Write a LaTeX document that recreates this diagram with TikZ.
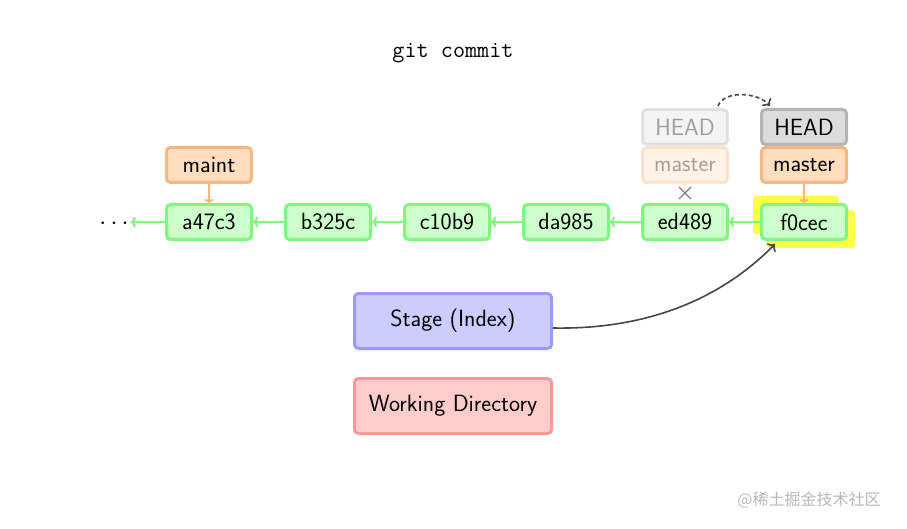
\documentclass[tikz,border=0pt]{standalone}
\usepackage{fontspec}
\newfontfamily\cjk{Noto Sans CJK SC}
\usetikzlibrary{arrows.meta,calc}
\definecolor{cgreen}{RGB}{128,245,128}
\definecolor{cgreenfill}{RGB}{204,255,204}
\definecolor{corange}{RGB}{245,182,128}
\definecolor{corangefill}{RGB}{255,221,190}
\definecolor{cgray}{RGB}{180,180,180}
\definecolor{cgrayfill}{RGB}{220,220,220}
\definecolor{cblue}{RGB}{153,153,255}
\definecolor{cbluefill}{RGB}{204,204,255}
\definecolor{cred}{RGB}{255,153,153}
\definecolor{credfill}{RGB}{255,204,204}
\definecolor{cyellow}{RGB}{255,255,70}
\definecolor{cdark}{RGB}{70,70,70}
\begin{document}
\begin{tikzpicture}[x=1pt,y=-1pt,
  box/.style={rounded corners=4pt, line width=3pt, minimum width=85pt, minimum height=35pt, inner sep=0pt, font=\fontsize{23.5}{28}\sffamily, text=black},
  commit/.style={box, draw=cgreen, fill=cgreenfill},
  branch/.style={box, draw=corange, fill=corangefill},
  headbox/.style={box, draw=cgray, fill=cgrayfill},
  bigbox/.style={box, minimum width=197pt, minimum height=55pt},
  faded/.style={opacity=0.35},
  garrow/.style={draw=cgreen, line width=2pt, -{To[length=5pt,width=11pt]}},
  oarrow/.style={draw=corange, line width=2pt, -{To[length=4pt,width=9pt]}},
  darrow/.style={draw=cdark, line width=1.6pt, -{To[length=6pt,width=12pt,line width=1.6pt]}}
]
\useasboundingbox (0,0) rectangle (907,529);

\node[font=\fontsize{23.5}{28}\ttfamily] (title) at (453,53) {git commit};

% highlight behind f0cec
\fill[cyellow, rounded corners=3pt] (753,196) rectangle (839,234);
\fill[cyellow, rounded corners=3pt] (767,210) rectangle (855,248);

\node[commit] (a47c3) at (209,222) {a47c3};
\node[commit] (b325c) at (328,222) {b325c};
\node[commit] (c10b9) at (447,222) {c10b9};
\node[commit] (da985) at (566,222) {da985};
\node[commit] (ed489) at (685,222) {ed489};
\node[commit] (f0cec) at (804,222) {f0cec};

\node[font=\fontsize{27}{30}\selectfont, inner sep=2pt] (dots) at (114,224) {$\cdots$};

\draw[garrow] (a47c3.west) -- (a47c3.west -| dots.east);
\draw[garrow] (b325c.west) -- (a47c3.east);
\draw[garrow] (c10b9.west) -- (b325c.east);
\draw[garrow] (da985.west) -- (c10b9.east);
\draw[garrow] (ed489.west) -- (da985.east);
\draw[garrow] (f0cec.west) -- (ed489.east);

\node[branch] (maint) at (209,165) {maint};
\draw[oarrow] (maint.south) -- (a47c3.north);

% old HEAD / master (faded)
\node[headbox, faded] (headold) at (685,127) {HEAD};
\node[branch, faded] (masterold) at (685,165) {master};
\coordinate (xmark) at (685,193);
\draw[corange, line width=2pt, opacity=0.35] (masterold.south) -- ([yshift=3pt]xmark);
\draw[cdark!70, line width=1.2pt] ($(xmark)+(-6,-6)$) -- ($(xmark)+(6,6)$) ($(xmark)+(-6,6)$) -- ($(xmark)+(6,-6)$);

% new HEAD / master
\node[headbox] (head) at (804,127) {HEAD};
\node[branch] (master) at (804,165) {master};
\draw[oarrow] (master.south) -- (f0cec.north);

\draw[darrow, dashed, dash pattern=on 4pt off 3pt] ([xshift=33pt,yshift=2pt]headold.north) .. controls +(6,-16) and +(-12,-14) .. ([xshift=-34pt,yshift=2pt]head.north);

\node[bigbox, draw=cblue, fill=cbluefill] (stage) at (453,321) {Stage (Index)};
\node[bigbox, draw=cred, fill=credfill] (wd) at (453,406) {Working Directory};

\draw[darrow] ([yshift=-7pt]stage.east) .. controls (660,330) and (730,290) .. ([xshift=-29pt,yshift=-3pt]f0cec.south);

\node[font=\fontsize{16}{19}\cjk, text=black!28] (wm) at (809,500) {@稀土掘金技术社区};
\end{tikzpicture}
\end{document}
